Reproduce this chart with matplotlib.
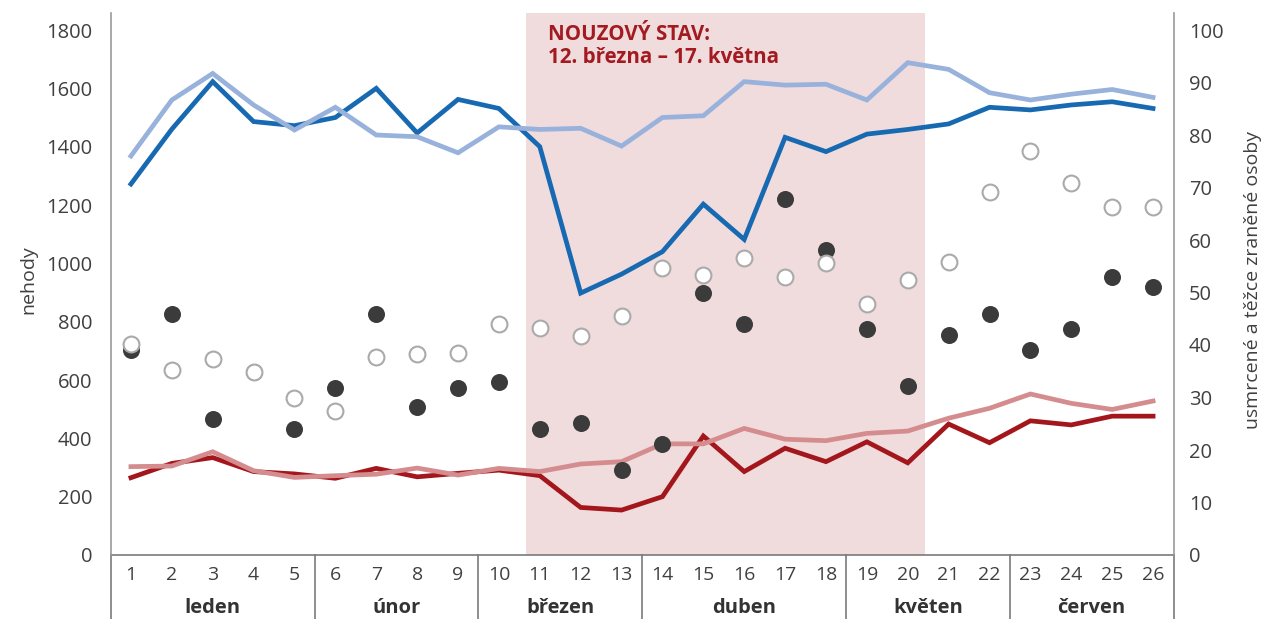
import matplotlib
matplotlib.use("Agg")
import matplotlib.pyplot as plt
import matplotlib.transforms as mtransforms

# ---------------- data ----------------
weeks = list(range(1, 27))
week_labels = [str(w) for w in weeks]
months = ['leden', 'únor', 'březen', 'duben', 'květen', 'červen']
month_week_counts = [5, 4, 4, 5, 4, 4]

nehody_2020 = [1272, 1460, 1623, 1486, 1472, 1500, 1600, 1447, 1562, 1531,
               1400, 898, 963, 1040, 1203, 1082, 1432, 1383, 1443, 1459,
               1478, 1535, 1526, 1543, 1554, 1531]
nehody_2019 = [1368, 1560, 1651, 1543, 1457, 1535, 1440, 1434, 1379, 1468,
               1459, 1463, 1402, 1500, 1506, 1623, 1611, 1614, 1560, 1688,
               1665, 1585, 1560, 1580, 1596, 1569]
lehce_2020 = [265, 314, 334, 286, 278, 263, 297, 268, 280, 291,
              272, 163, 154, 200, 408, 286, 366, 320, 388, 316,
              449, 385, 460, 446, 476, 476]
lehce_2019 = [303, 305, 354, 289, 266, 272, 277, 298, 274, 297,
              286, 312, 320, 381, 381, 434, 397, 392, 417, 425,
              469, 503, 552, 520, 499, 528]
usmrceni_2020 = [39.0, 46.0, 26.0, 34.9, 24.0, 31.9, 46.0, 28.1, 31.9, 33.0,
                 24.0, 25.1, 16.1, 21.1, 50.0, 44.0, 67.9, 58.1, 43.0, 32.1,
                 42.0, 46.0, 39.0, 43.0, 53.0, 51.0]
usmrceni_2019 = [40.1, 35.2, 37.3, 34.9, 30.0, 27.5, 37.8, 38.3, 38.5, 44.0,
                 43.2, 41.7, 45.5, 54.7, 53.3, 56.6, 53.0, 55.6, 47.8, 52.4,
                 55.8, 69.2, 77.0, 70.8, 66.2, 66.2]

nouzovy_stav = (10.66, 20.42)
left_ticks = [0, 200, 400, 600, 800, 1000, 1200, 1400, 1600, 1800]
right_ticks = [0, 10, 20, 30, 40, 50, 60, 70, 80, 90, 100]

# ---------------- style ----------------
FONT = ['Open Sans', 'DejaVu Sans']
plt.rcParams['font.family'] = FONT
TXT = '#404040'
C_DBLUE = '#1769b2'
C_LBLUE = '#98b2dc'
C_DRED = '#a3171c'
C_PINK = '#d48c8e'
C_SHADE = '#f0dcdd'
C_DOT = '#3b3b3b'
C_OPEN = '#aaaaaa'
C_AXIS = '#9a9a9a'

W, H = 1265, 619
fig = plt.figure(figsize=(W / 100, H / 100), dpi=100)
x0, x1 = 110.5, 1173.5
y_top, y_bot = 13, 555
ax = fig.add_axes([x0 / W, (H - y_bot) / H, (x1 - x0) / W, (y_bot - y_top) / H])
ax2 = ax.twinx()

ax.set_xlim(0.5, 26.5)
ax.set_ylim(0, 1800 * (y_bot - y_top) / 525)
ax2.set_ylim(0, 100 * (y_bot - y_top) / 525)

ax.axvspan(*nouzovy_stav, color=C_SHADE, lw=0, zorder=0)

lw = 3.4
ax.plot(weeks, nehody_2020, color=C_DBLUE, lw=lw, solid_joinstyle='miter', zorder=3)
ax.plot(weeks, nehody_2019, color=C_LBLUE, lw=lw, solid_joinstyle='miter', zorder=3)
ax.plot(weeks, lehce_2020, color=C_DRED, lw=lw, solid_joinstyle='miter', zorder=3)
ax.plot(weeks, lehce_2019, color=C_PINK, lw=lw, solid_joinstyle='miter', zorder=3)

ax2.scatter(weeks, usmrceni_2020, s=150, color=C_DOT, lw=0, zorder=4)
ax2.scatter(weeks, usmrceni_2019, s=130, facecolor='white', edgecolor=C_OPEN, lw=1.5, zorder=5)

# spines
for a in (ax, ax2):
    for s in ('top', 'left', 'right', 'bottom'):
        a.spines[s].set_visible(False)
ax.axhline(0, color='#7a7a7a', lw=1.2, zorder=6, clip_on=False)
tr = mtransforms.blended_transform_factory(ax.transData, ax.transAxes)
ax.plot([0.5, 0.5], [0, 1], transform=tr, color=C_AXIS, lw=1.2, clip_on=False, zorder=6)
ax.plot([26.5, 26.5], [0, 1], transform=tr, color=C_AXIS, lw=1.2, clip_on=False, zorder=6)

# y ticks
ax.set_yticks(left_ticks)
ax.set_yticklabels([str(t) for t in left_ticks])
ax2.set_yticks(right_ticks)
ax2.set_yticklabels([str(t) for t in right_ticks])
ax.tick_params(axis='y', length=0, pad=13, labelsize=14.5, labelcolor=TXT)
ax2.tick_params(axis='y', length=0, pad=11, labelsize=14.5, labelcolor=TXT)
ax.set_xticks([])

ax_w = x1 - x0
ax_h = y_bot - y_top
ax.set_ylabel('nehody', fontsize=14, color=TXT)
ax.yaxis.set_label_coords((37 - x0) / ax_w, (555 - 280) / ax_h)
ax2.set_ylabel('usmrcené a těžce zraněné osoby', fontsize=14, color=TXT)
ax2.yaxis.set_label_coords((1244 - x0) / ax_w, (555 - 280) / ax_h)

# bottom category axis
for w, lab in zip(weeks, week_labels):
    ax.text(w, -20 / ax_h, lab, transform=tr, ha='center', va='center',
            fontsize=14, color=TXT, clip_on=False)
bounds = [0.5]
for n in month_week_counts:
    bounds.append(bounds[-1] + n)
for b in bounds:
    ax.plot([b, b], [0, -64 / ax_h], transform=tr, color='#7a7a7a', lw=1.2, clip_on=False)
for m, a, b in zip(months, bounds[:-1], bounds[1:]):
    ax.text((a + b) / 2, -53 / ax_h, m, transform=tr, ha='center', va='center',
            fontsize=14.5, fontweight='bold', color='#333333', clip_on=False)

# annotation
ax.text(11.2, (555 - 24) / 0.2917, 'NOUZOVÝ STAV:\n12. března – 17. května',
        ha='left', va='top', fontsize=14.8, fontweight='bold', color='#a31a20',
        family=['Liberation Sans Narrow', 'Open Sans', 'DejaVu Sans'], linespacing=1.1, zorder=7)

fig.savefig('out.png', dpi=100)
